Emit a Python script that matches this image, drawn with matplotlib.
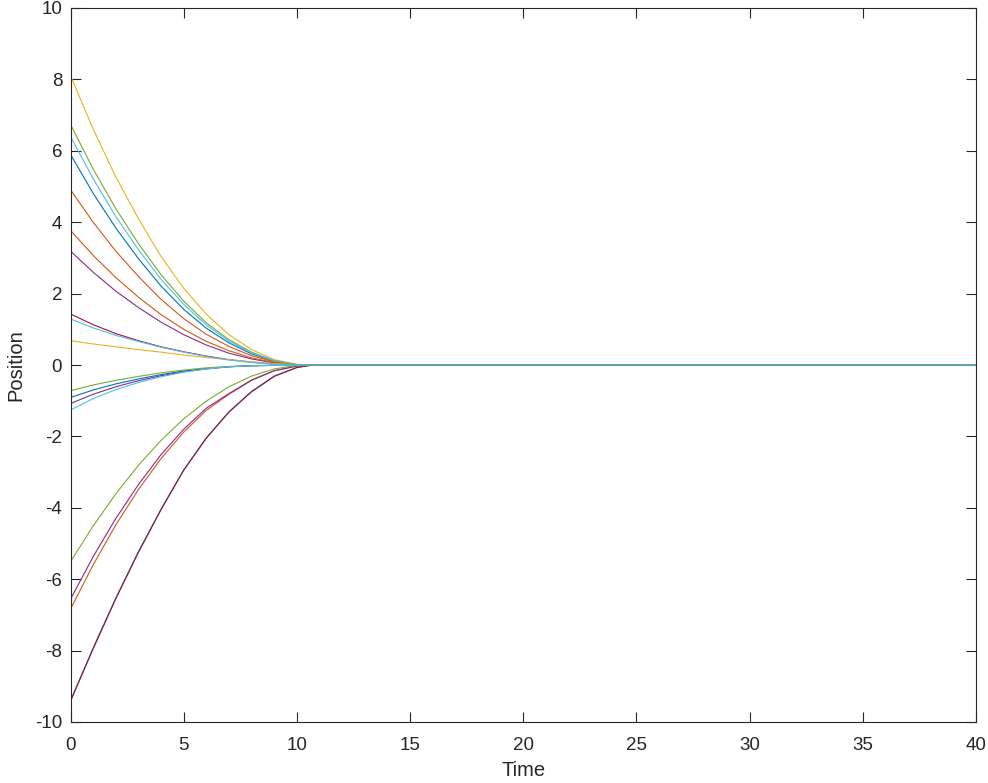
import numpy as np
import matplotlib
matplotlib.use('Agg')
import matplotlib.pyplot as plt

plt.rcParams['font.family'] = ['Liberation Sans', 'DejaVu Sans']
plt.rcParams['axes.unicode_minus'] = False

# MATLAB default colour order
blue = '#0072BD'
orange = '#D95319'
yellow = '#EDB120'
purple = '#7E2F8E'
green = '#77AC30'
lblue = '#4DBEEE'
dred = '#A2142F'

# sample times (every curve is flat at 0 after ~10.7)
t = [0, 1, 2, 3, 4, 5, 6, 7, 8, 9, 10, 10.7, 40]

# position values read at the times above
blue_1 = [5.90, 4.81, 3.84, 2.98, 2.21, 1.56, 1.03, 0.62, 0.31, 0.11, 0.01, 0, 0]
orange_1 = [4.91, 4.00, 3.19, 2.48, 1.84, 1.30, 0.86, 0.52, 0.26, 0.09, 0.01, 0, 0]
yellow_1 = [8.11, 6.61, 5.27, 4.10, 3.04, 2.15, 1.42, 0.85, 0.43, 0.15, 0.02, 0, 0]
purple_1 = [3.19, 2.60, 2.07, 1.61, 1.20, 0.85, 0.56, 0.33, 0.17, 0.06, 0.01, 0, 0]
green_1 = [6.74, 5.49, 4.38, 3.40, 2.53, 1.79, 1.18, 0.71, 0.36, 0.12, 0.01, 0, 0]
lblue_1 = [6.40, 5.22, 4.16, 3.23, 2.40, 1.70, 1.12, 0.67, 0.34, 0.12, 0.01, 0, 0]
dred_1 = [1.43, 1.13, 0.88, 0.68, 0.51, 0.37, 0.25, 0.15, 0.08, 0.03, 0.005, 0, 0]

blue_2 = [-0.91, -0.70, -0.53, -0.39, -0.27, -0.17, -0.10, -0.05, -0.02, -0.01, 0, 0, 0]
orange_2 = [3.77, 3.07, 2.45, 1.90, 1.41, 1.00, 0.66, 0.40, 0.20, 0.07, 0.01, 0, 0]
yellow_2 = [0.68, 0.59, 0.51, 0.43, 0.36, 0.28, 0.21, 0.15, 0.09, 0.04, 0.01, 0, 0]
purple_2 = [-1.08, -0.82, -0.61, -0.44, -0.30, -0.19, -0.11, -0.05, -0.02, -0.01, 0, 0, 0]
green_2 = [-0.72, -0.56, -0.43, -0.32, -0.22, -0.14, -0.08, -0.04, -0.02, -0.01, 0, 0, 0]
lblue_2 = [1.29, 1.04, 0.83, 0.66, 0.50, 0.36, 0.24, 0.14, 0.07, 0.02, 0, 0, 0]
dred_2 = [-9.42, -7.95, -6.55, -5.25, -4.05, -2.95, -2.05, -1.32, -0.75, -0.32, -0.07, 0, 0]

blue_3 = [-9.40, -7.93, -6.53, -5.23, -4.04, -2.94, -2.04, -1.31, -0.74, -0.31, -0.07, 0, 0]
orange_3 = [-6.84, -5.60, -4.48, -3.49, -2.62, -1.88, -1.27, -0.82, -0.43, -0.16, -0.03, 0, 0]
purple_3 = [-6.56, -5.37, -4.30, -3.35, -2.51, -1.80, -1.21, -0.80, -0.42, -0.16, -0.03, 0, 0]
green_3 = [-5.51, -4.51, -3.61, -2.81, -2.11, -1.51, -1.01, -0.61, -0.31, -0.11, -0.01, 0, 0]
lblue_3 = [-1.26, -0.94, -0.69, -0.49, -0.33, -0.20, -0.11, -0.05, -0.02, -0.01, 0, 0, 0]

# drawing order follows matlab's colour cycle, last one ends up on top
curves = [
    (blue_1, blue), (orange_1, orange), (yellow_1, yellow), (purple_1, purple),
    (green_1, green), (lblue_1, lblue), (dred_1, dred),
    (blue_3, blue), (blue_2, blue), (orange_2, orange), (yellow_2, yellow),
    (purple_2, purple), (green_2, green), (lblue_2, lblue), (dred_2, dred),
    (orange_3, orange), (purple_3, purple), (green_3, green), (lblue_3, lblue),
]

fig = plt.figure(figsize=(9.88, 7.83), dpi=100)
ax = fig.add_axes([70.5/988, 1-722/783, (976-70.5)/988, (722-8)/783])

for vals, col in curves:
    ax.plot(t, vals, color=col, lw=0.8)

axcol = '#262626'
ax.set_xlim(0, 40)
ax.set_ylim(-10, 10)
ax.set_xticks(np.arange(0, 41, 5))
ax.set_yticks(np.arange(-10, 11, 2))
ax.tick_params(direction='in', length=7, width=0.8, colors=axcol,
               labelsize=13.5, top=True, right=True)
ax.tick_params(axis='x', pad=11)
ax.tick_params(axis='y', pad=6)
for s in ax.spines.values():
    s.set_color(axcol)
    s.set_linewidth(0.8)

ax.set_xlabel('Time', fontsize=14.5, color=axcol, labelpad=5)
ax.set_ylabel('Position', fontsize=14.5, color=axcol, labelpad=7)

fig.savefig('out.png', dpi=100)
